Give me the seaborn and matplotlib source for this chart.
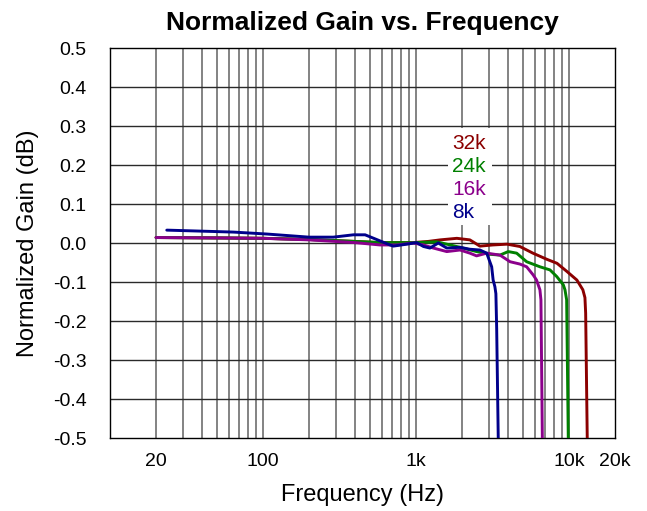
import numpy as np
import pandas as pd
import matplotlib
matplotlib.use("Agg")
import matplotlib.pyplot as plt
from matplotlib.patches import Rectangle
from matplotlib.ticker import FixedLocator, FixedFormatter, NullFormatter
import seaborn as sns

# Frequency response per sample rate (Hz, dB)
freq_32k = [20, 50, 100, 200, 400, 580, 950, 1200, 1440, 1850, 2250, 2620, 3180,
            3940, 4780, 5810, 7190, 8350, 9700, 11270, 12330, 12720, 12860, 13170]
gain_32k = [0.014, 0.013, 0.012, 0.009, 0.004, 0.001, 0.001, 0.004, 0.008, 0.012,
            0.008, -0.008, -0.005, -0.003, -0.009, -0.026, -0.042, -0.052, -0.073,
            -0.095, -0.120, -0.140, -0.180, -0.500]

freq_24k = [20, 50, 100, 200, 400, 600, 1000, 1365, 1590, 1940, 2490, 3050, 3540,
            4010, 4550, 5290, 6460, 7520, 8320, 9180, 9420, 9660, 9900]
gain_24k = [0.014, 0.013, 0.012, 0.009, 0.004, 0.001, 0.001, 0.003, -0.003, -0.011,
            -0.022, -0.029, -0.031, -0.022, -0.026, -0.048, -0.061, -0.069, -0.086,
            -0.107, -0.120, -0.146, -0.500]

freq_16k = [20, 50, 100, 200, 400, 580, 750, 960, 1120, 1300, 1590, 1940, 2250,
            2490, 2900, 3540, 4120, 4780, 5290, 5840, 6140, 6460, 6560, 6700]
gain_16k = [0.014, 0.013, 0.012, 0.008, 0.001, -0.005, -0.005, 0.000, -0.005,
            -0.013, -0.022, -0.018, -0.026, -0.033, -0.026, -0.031, -0.048, -0.054,
            -0.061, -0.082, -0.095, -0.120, -0.146, -0.500]

freq_8k = [23.5, 64, 106, 200, 288, 390, 465, 553, 676, 711, 870, 1010, 1120, 1234,
           1400, 1590, 1940, 2250, 2620, 2900, 3125, 3195, 3280, 3330, 3370, 3450]
gain_8k = [0.033, 0.028, 0.023, 0.015, 0.015, 0.021, 0.021, 0.009, -0.005, -0.008,
           -0.003, 0.001, -0.009, -0.013, 0.000, -0.013, -0.011, -0.016, -0.018,
           -0.026, -0.061, -0.095, -0.112, -0.130, -0.220, -0.500]

series_names = ["32k", "24k", "16k", "8k"]
series_colors = ["#8B0000", "#008000", "#8B008B", "#00008B"]

x_tick_values = [20, 100, 1000, 10000, 20000]
x_tick_labels = ["20", "100", "1k", "10k", "20k"]
y_tick_values = [0.5, 0.4, 0.3, 0.2, 0.1, 0.0, -0.1, -0.2, -0.3, -0.4, -0.5]

frames = []
for name, f, g in zip(series_names,
                      [freq_32k, freq_24k, freq_16k, freq_8k],
                      [gain_32k, gain_24k, gain_16k, gain_8k]):
    frames.append(pd.DataFrame({"Frequency": f, "Gain": g, "Rate": name}))
df = pd.concat(frames, ignore_index=True)

sns.set_theme(style="white")
plt.rcParams["font.family"] = ["Liberation Sans", "DejaVu Sans"]
plt.rcParams["text.color"] = "black"
plt.rcParams["axes.labelcolor"] = "black"

fig = plt.figure(figsize=(6.47, 5.11), dpi=100)
ax = fig.add_axes([110 / 647, 1 - 438 / 511, 505 / 647, 390 / 511])

sns.lineplot(data=df, x="Frequency", y="Gain", hue="Rate", hue_order=series_names,
             palette=dict(zip(series_names, series_colors)), estimator=None,
             sort=False, linewidth=2.1, legend=False, ax=ax, zorder=3)

ax.set_xscale("log")
ax.set_xlim(10, 20000)
ax.set_ylim(-0.5, 0.5)

# Vertical grid at every log step, horizontal grid at every 0.1 dB
grid_x = [m * 10 ** e for e in range(1, 4) for m in range(2, 10)] + [100, 1000, 10000]
for gx in grid_x:
    ax.axvline(gx, color="#6e6e6e", linewidth=1.2, zorder=0.5)
for gy in y_tick_values[1:-1]:
    ax.axhline(gy, color="#2a2a2a", linewidth=1.0, zorder=0.5)

ax.xaxis.set_major_locator(FixedLocator(x_tick_values))
ax.xaxis.set_major_formatter(FixedFormatter(x_tick_labels))
ax.xaxis.set_minor_formatter(NullFormatter())
ax.set_yticks(y_tick_values)
ax.set_yticklabels([f"{v:.1f}" for v in y_tick_values])
ax.tick_params(axis="both", which="both", length=0, labelsize=14, colors="black")
ax.tick_params(axis="x", pad=11)
ax.tick_params(axis="y", pad=17)

for s in ax.spines.values():
    s.set_visible(True)
    s.set_color("black")
    s.set_linewidth(1.0)

ax.set_xlabel("Frequency (Hz)", fontsize=17, labelpad=10, color="black")
ax.set_ylabel("Normalized Gain (dB)", fontsize=17, labelpad=10, color="black")
ax.set_title("Normalized Gain vs. Frequency", fontsize=19, fontweight="bold", pad=13,
             color="black")

# Series labels on a white panel
ax.add_patch(Rectangle((1626, 0.046), 3122 - 1626, 0.25, facecolor="white",
                       edgecolor="none", zorder=1))
label_y = [0.256, 0.197, 0.138, 0.079]
for name, color, ly in zip(series_names, series_colors, label_y):
    ax.text(1720, ly, name, color=color, fontsize=15, ha="left", va="center", zorder=4)

fig.savefig("out.png", dpi=100)
